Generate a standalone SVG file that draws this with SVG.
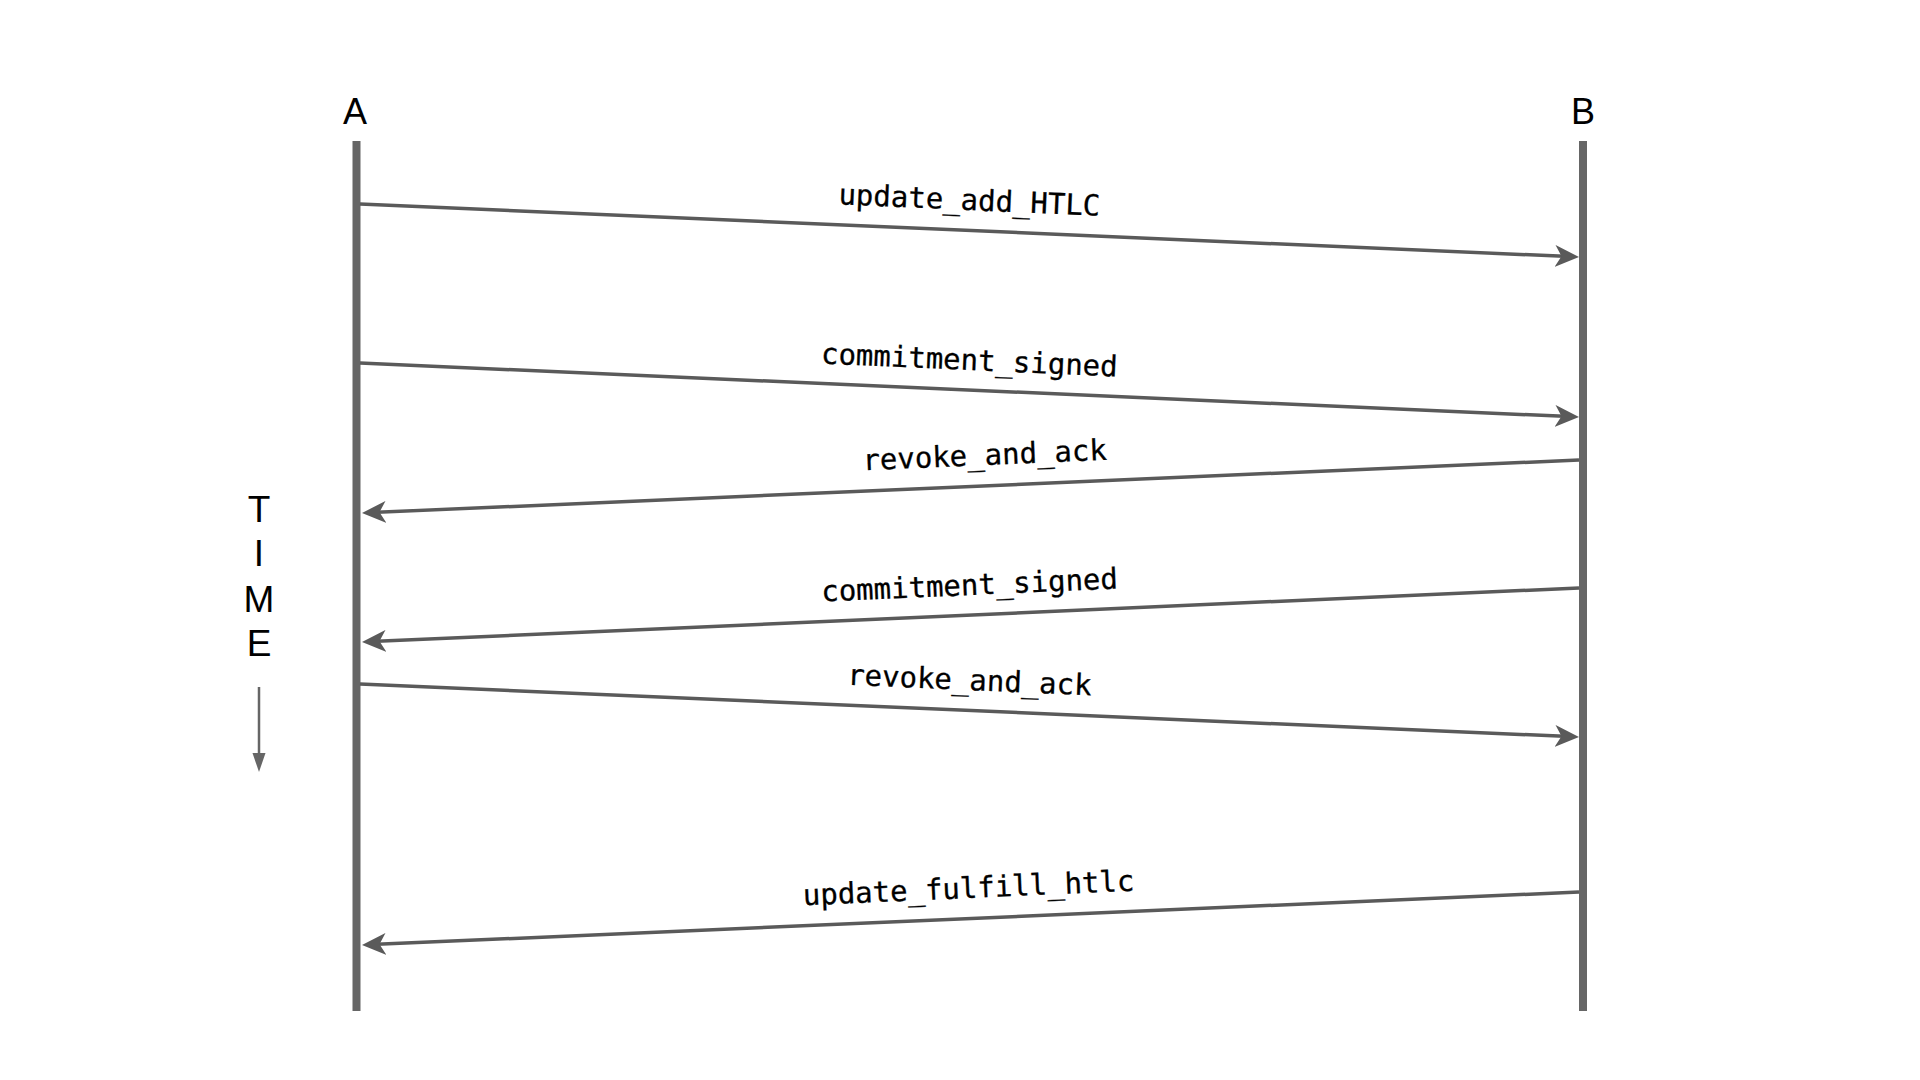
<svg xmlns="http://www.w3.org/2000/svg" width="1920" height="1080" viewBox="0 0 1920 1080">
  <defs>
    <marker id="arrow" viewBox="0 0 24 22" refX="15" refY="11" markerWidth="24" markerHeight="22" markerUnits="userSpaceOnUse" orient="auto">
      <path d="M0,0 L24,11 L0,22 L6.5,11 Z" fill="#5a5a5a"/>
    </marker>
  </defs>
  <style>
    .life { stroke: #666666; stroke-width: 8; fill: none; }
    .msg { stroke: #5a5a5a; stroke-width: 3.5; fill: none; marker-end: url(#arrow); }
    .actor { font-family: "Liberation Sans", Arial, sans-serif; font-size: 36px; fill: #000; text-anchor: middle; }
    .time { font-family: "Liberation Sans", Arial, sans-serif; font-size: 37px; fill: #000; text-anchor: middle; }
    .lbl { font-family: "DejaVu Sans Mono", "Liberation Mono", monospace; font-size: 29px; fill: #000; stroke: #000; stroke-width: 0.3; text-anchor: middle; }
  </style>
  <rect width="1920" height="1080" fill="#ffffff"/>

  <g id="actor-A">
    <text class="actor" x="355" y="124">A</text>
    <line class="life" x1="356.5" y1="141" x2="356.5" y2="1011"/>
  </g>
  <g id="actor-B">
    <text class="actor" x="1583" y="124">B</text>
    <line class="life" x1="1583" y1="141" x2="1583" y2="1011"/>
  </g>

  <g id="time-axis">
    <text class="time" x="259" y="522">T</text>
    <text class="time" x="259" y="566">I</text>
    <text class="time" x="259" y="612">M</text>
    <text class="time" x="259" y="656">E</text>
    <path d="M259,687 L259,758" stroke="#666666" stroke-width="2.5" fill="none"/>
    <path d="M252.5,753 L259,772 L265.5,753 Z" fill="#666666"/>
  </g>

  <g id="connectors">
    <path class="msg" d="M360,204 L1570,256.6"/>
    <path class="msg" d="M360,363 L1570,416.6"/>
    <path class="msg" d="M1579,460 L371,512.6"/>
    <path class="msg" d="M1579,588 L371,641.6"/>
    <path class="msg" d="M360,684 L1570,736.6"/>
    <path class="msg" d="M1579,892 L371,944.6"/>
  </g>

  <g id="labels">
    <text class="lbl" x="969" y="210" transform="rotate(2.49 969 210)">update_add_HTLC</text>
    <text class="lbl" x="969" y="370" transform="rotate(2.54 969 370)">commitment_signed</text>
    <text class="lbl" x="985" y="465" transform="rotate(-2.49 985 465)">revoke_and_ack</text>
    <text class="lbl" x="970" y="595" transform="rotate(-2.54 970 595)">commitment_signed</text>
    <text class="lbl" x="969" y="690" transform="rotate(2.49 969 690)">revoke_and_ack</text>
    <text class="lbl" x="969" y="898" transform="rotate(-2.49 969 898)">update_fulfill_htlc</text>
  </g>
</svg>
